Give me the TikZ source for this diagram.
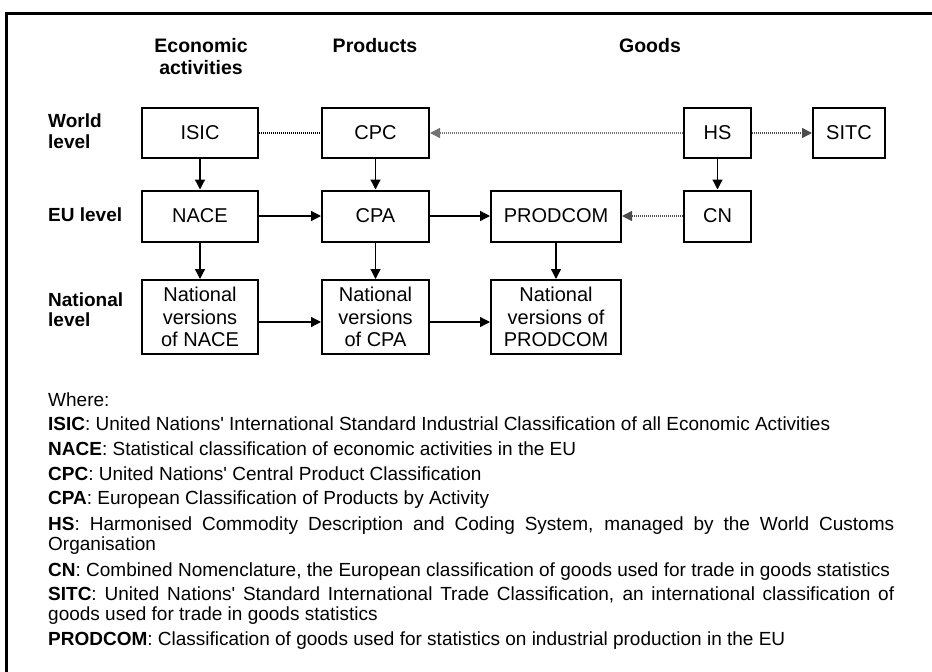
\documentclass[tikz,border=0pt]{standalone}
\usepackage{fontspec}
\setmainfont{Liberation Sans}[Ligatures=TeXOff]
\usetikzlibrary{arrows.meta}
\begin{document}
\begin{tikzpicture}[x=1pt,y=-1pt,
  box/.style={draw,line width=2pt,rectangle,inner sep=0pt,align=center,
    font=\fontsize{20}{22.5}\selectfont},
  hdr/.style={font=\bfseries\fontsize{19.5}{22}\selectfont,align=center,inner sep=0pt,anchor=north},
  rowlab/.style={font=\bfseries\fontsize{19}{20.5}\selectfont,align=left,inner sep=0pt,anchor=north west},
  leg/.style={font=\fontsize{19}{20}\selectfont,inner sep=0pt,anchor=base west},
  par/.style={leg,text width=846pt,align=justify,
    execute at begin node={\hyphenpenalty=10000\exhyphenpenalty=10000}},
  arr/.style={line width=1.3pt,-{Triangle[length=10pt,width=10pt]}},
  dotl/.style={line width=1.5pt,dash pattern=on 1pt off 1pt},
  dota/.style={line width=1.5pt,dash pattern=on 1pt off 1pt,-{Triangle[length=10pt,width=10pt]}}
]
\useasboundingbox (0,0) rectangle (932,672);
% frame
\draw[line width=3pt] (6.5,672) -- (6.5,13) -- (932,13);

% headers
\node[hdr] (h1) at (201,38) {Economic\\activities};
\node[hdr] (h2) at (375,38) {Products};
\node[hdr] (h3) at (650,38) {Goods};

% row labels
\node[rowlab] (r1) at (48,114) {World\\level};
\node[rowlab] (r2) at (48,208) {EU level};
\node[rowlab] (r3) at (48,292.5) {National\\level};

% boxes
\node[box,minimum width=116,minimum height=50] (isic) at (200,133) {ISIC};
\node[box,minimum width=107,minimum height=50] (cpc) at (375.5,133) {CPC};
\node[box,minimum width=67,minimum height=50] (hs) at (717.5,133) {HS};
\node[box,minimum width=72,minimum height=50] (sitc) at (849,133) {SITC};
\node[box,minimum width=116,minimum height=51] (nace) at (200,216) {NACE};
\node[box,minimum width=107,minimum height=51] (cpa) at (375.5,216) {CPA};
\node[box,minimum width=130,minimum height=51] (prodcom) at (556,216) {PRODCOM};
\node[box,minimum width=67,minimum height=51] (cn) at (717.5,216) {CN};
\node[box,minimum width=116,minimum height=74] (nnace) at (200,317) {National\\versions\\of NACE};
\node[box,minimum width=107,minimum height=74] (ncpa) at (375.5,317) {National\\versions\\of CPA};
\node[box,minimum width=130,minimum height=74] (nprod) at (556,317) {National\\versions of\\PRODCOM};

% connectors
\draw[dotl] (isic) -- (cpc);
\draw[dota,draw=black!55] (hs) -- (cpc);
\draw[dota,draw=black!70] (hs) -- (sitc);
\draw[dota,draw=black!70] (cn) -- (prodcom);
\draw[arr] (isic) -- (nace);
\draw[arr] (cpc) -- (cpa);
\draw[arr] (hs) -- (cn);
\draw[arr] (nace) -- (cpa);
\draw[arr] (cpa) -- (prodcom);
\draw[arr] (nace) -- (nnace);
\draw[arr] (cpa) -- (ncpa);
\draw[arr] (prodcom) -- (nprod);
\draw[arr] ([yshift=-5pt]nnace.east) -- ([yshift=-5pt]ncpa.west);
\draw[arr] ([yshift=-5pt]ncpa.east) -- ([yshift=-5pt]nprod.west);

% legend
\node[leg] (w) at (48,406) {Where:};
\node[leg] (l1) at (48,430) {\textbf{ISIC}: United Nations' International Standard Industrial Classification of all Economic Activities};
\node[leg] (l2) at (48,455) {\textbf{NACE}: Statistical classification of economic activities in the EU};
\node[leg] (l3) at (48,480) {\textbf{CPC}: United Nations' Central Product Classification};
\node[leg] (l4) at (48,504) {\textbf{CPA}: European Classification of Products by Activity};
\node[par] (l5) at (48,530) {\textbf{HS}: Harmonised Commodity Description and Coding System, managed by the World Customs Organisation};
\node[leg] (l6) at (48,576) {\textbf{CN}: Combined Nomenclature, the European classification of goods used for trade in goods statistics};
\node[par] (l7) at (48,600) {\textbf{SITC}: United Nations' Standard International Trade Classification, an international classification of goods used for trade in goods statistics};
\node[leg] (l8) at (48,645) {\textbf{PRODCOM}: Classification of goods used for statistics on industrial production in the EU};
\end{tikzpicture}
\end{document}
